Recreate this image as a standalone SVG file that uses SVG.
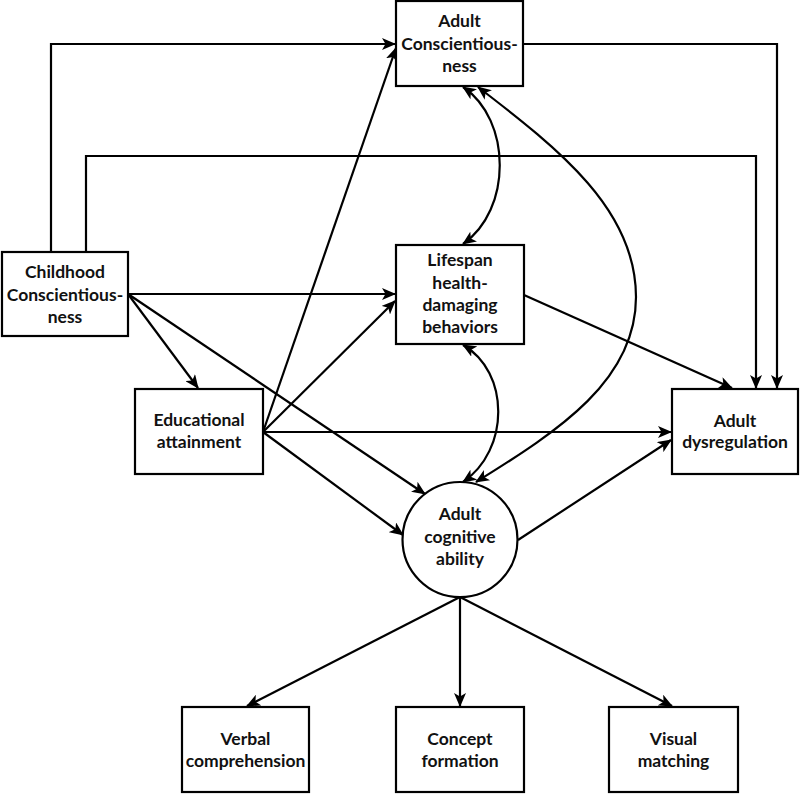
<svg xmlns="http://www.w3.org/2000/svg" width="800" height="794" viewBox="0 0 800 794">
<style>
.box{fill:#fff;stroke:#000;stroke-width:2.2}
.lbl{font-family:Lato,"Liberation Sans",sans-serif;font-weight:bold;font-size:17.5px;text-anchor:middle;fill:#111}
.c{fill:none;stroke:#000;stroke-width:2.2}
.a{marker-end:url(#ah)}
.b{marker-end:url(#ah);marker-start:url(#ah)}
</style>
<defs>
<marker id="ah" markerUnits="userSpaceOnUse" markerWidth="14" markerHeight="12" viewBox="0 0 14 12" refX="13" refY="6" orient="auto-start-reverse">
<path d="M0,0 L14,6 L0,12 L3.5,6 Z" fill="#000"/>
</marker>
</defs>
<rect width="800" height="794" fill="#fff"/>
<g id="connectors">
<path class="c a" d="M51,252 V44 H395"/>
<path class="c a" d="M86,252 V156 H756 V388"/>
<path class="c a" d="M523,44 H777 V388"/>
<path class="c a" d="M128,294 H395"/>
<path class="c a" d="M128,294 L198,388"/>
<path class="c a" d="M128,294 L425,494"/>
<path class="c a" d="M263,432 L396,48"/>
<path class="c a" d="M263,432 L395,301"/>
<path class="c a" d="M263,432 H671"/>
<path class="c a" d="M263,432 L403,535"/>
<path class="c a" d="M524,295 L732,388"/>
<path class="c a" d="M518,540 L671,440"/>
<path class="c a" d="M460,597 L247,706"/>
<path class="c a" d="M460,597 V706"/>
<path class="c a" d="M460,597 L672,706"/>
<path class="c b" d="M463,87 C512,120 512,210 463,244"/>
<path class="c b" d="M463,345 C510,372 510,450 463,482"/>
<path class="c b" d="M478,87 C560,150 636,210 636,297 C636,380 560,430 476,482"/>
</g>
<g id="adult-conscientiousness">
<rect class="box" x="396" y="1" width="127" height="85"/>
<text class="lbl" x="459.5" y="27">Adult</text>
<text class="lbl" x="459.5" y="50">Conscientious-</text>
<text class="lbl" x="459.5" y="72">ness</text>
</g>
<g id="childhood-conscientiousness">
<rect class="box" x="2" y="252" width="126" height="84"/>
<text class="lbl" x="65" y="278">Childhood</text>
<text class="lbl" x="65" y="301">Conscientious-</text>
<text class="lbl" x="65" y="323">ness</text>
</g>
<g id="lifespan-behaviors">
<rect class="box" x="396" y="245" width="128" height="99"/>
<text class="lbl" x="460" y="266">Lifespan</text>
<text class="lbl" x="460" y="289">health-</text>
<text class="lbl" x="460" y="311">damaging</text>
<text class="lbl" x="460" y="333">behaviors</text>
</g>
<g id="educational-attainment">
<rect class="box" x="135" y="389" width="128" height="85"/>
<text class="lbl" x="199" y="426">Educational</text>
<text class="lbl" x="199" y="448">attainment</text>
</g>
<g id="adult-dysregulation">
<rect class="box" x="672" y="389" width="126" height="85"/>
<text class="lbl" x="735" y="427">Adult</text>
<text class="lbl" x="735" y="448">dysregulation</text>
</g>
<g id="adult-cognitive-ability">
<circle class="box" cx="460" cy="539.5" r="57.5"/>
<text class="lbl" x="460" y="520">Adult</text>
<text class="lbl" x="460" y="543">cognitive</text>
<text class="lbl" x="460" y="565">ability</text>
</g>
<g id="verbal-comprehension">
<rect class="box" x="182" y="707" width="127" height="85"/>
<text class="lbl" x="245.5" y="745">Verbal</text>
<text class="lbl" x="245.5" y="767">comprehension</text>
</g>
<g id="concept-formation">
<rect class="box" x="396" y="707" width="128" height="85"/>
<text class="lbl" x="460" y="745">Concept</text>
<text class="lbl" x="460" y="767">formation</text>
</g>
<g id="visual-matching">
<rect class="box" x="609" y="707" width="129" height="85"/>
<text class="lbl" x="673.5" y="745">Visual</text>
<text class="lbl" x="673.5" y="767">matching</text>
</g>
</svg>
